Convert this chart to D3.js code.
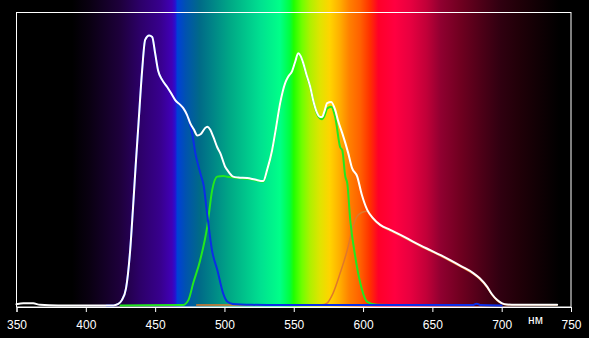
<!DOCTYPE html>
<html>
<head>
<meta charset="utf-8">
<script src="https://d3js.org/d3.v7.min.js"></script>
<style>
	html, body { margin: 0; padding: 0; background: #000; }
	svg { display: block; }
</style>
</head>
<body>
<svg id="canvas" width="589" height="338"></svg>
<script>
// wavelength (nm), relative intensity
var whiteSpectrum = [
	[350,0.006],[355,0.009],[362,0.009],[367,0.004],[380,0.002],[420,0.002],[423,0.006],[426,0.02],
	[429,0.06],[432,0.19],[434,0.33],[436,0.48],[438,0.62],[440.6,0.80],[442.8,0.905],[445.7,0.92],
	[447.9,0.915],[450,0.86],[452.2,0.80],[455,0.77],[458.7,0.745],[462,0.72],[464.5,0.70],[468,0.685],
	[470.3,0.673],[473,0.65],[475.3,0.622],[478,0.60],[480.4,0.58],[483,0.585],[486,0.605],[487.6,0.61],
	[489.7,0.60],[492,0.575],[494.8,0.54],[497,0.52],[500.6,0.473],[502,0.463],[506.3,0.44],[510,0.437],
	[516.4,0.435],[522,0.43],[528,0.425],[530.8,0.463],[534.4,0.53],[537,0.60],[540.2,0.69],[543.8,0.758],
	[546,0.78],[548.9,0.80],[551,0.83],[553.2,0.86],[555,0.85],[556.8,0.827],[559,0.79],[561.9,0.745],
	[564,0.70],[566.9,0.656],[569,0.643],[570.5,0.643],[572,0.66],[574.1,0.69],[577,0.694],[579.9,0.667],
	[582,0.63],[585,0.588],[589.3,0.52],[592,0.47],[595.8,0.44],[599,0.38],[603,0.327],[607,0.30],
	[612.4,0.276],[619.6,0.259],[627,0.242],[634.1,0.224],[641,0.207],[648.5,0.19],[656,0.173],[662.9,0.156],
	[671,0.135],[679.5,0.112],[684,0.095],[689.6,0.065],[693,0.04],[696.8,0.02],[700,0.01],[704,0.005],
	[710,0.004],[740,0.004]
];
var blueSpectrum = [
	[415,0.002],[420,0.002],[423,0.006],[426,0.02],[429,0.06],[432,0.19],[434,0.33],[436,0.48],
	[438,0.62],[440.6,0.80],[442.8,0.905],[445.7,0.92],[447.9,0.915],[450,0.86],[452.2,0.80],[455,0.77],
	[458.7,0.745],[462,0.72],[464.5,0.70],[468,0.685],[470.3,0.673],[473,0.65],[475,0.62],[477,0.58],
	[479,0.52],[481,0.48],[483,0.445],[485,0.41],[487.6,0.31],[491,0.19],[495,0.12],[499,0.044],
	[502,0.015],[506,0.007],[520,0.004],[540,0.003],[679,0.003],[682,0.008],[685,0.003],[700,0.002]
];
var greenSpectrum = [
	[425,0.002],[470,0.003],[474,0.02],[477.5,0.078],[482.5,0.156],[487.6,0.27],[491.2,0.395],[494.8,0.44],
	[499.1,0.442],[502,0.44],[506,0.438],[510,0.435],[516.4,0.433],[522,0.428],[528,0.423],[530.8,0.46],
	[534.4,0.528],[537,0.598],[540.2,0.688],[543.8,0.756],[546,0.778],[548.9,0.798],[551,0.828],[553.2,0.858],
	[555,0.848],[556.8,0.825],[559,0.788],[561.9,0.743],[564,0.698],[566.9,0.652],[569,0.638],[570.5,0.635],
	[572,0.645],[574.1,0.672],[577,0.678],[579.9,0.643],[583.5,0.54],[585,0.53],[587.2,0.44],[588.6,0.418],
	[590.8,0.29],[594.4,0.167],[598,0.078],[603,0.014],[610,0.004],[630,0.003]
];
var redSpectrum = [
	[480,0.003],[570,0.004],[574,0.01],[578.4,0.044],[583.5,0.112],[588.6,0.19],[592.2,0.26],[595,0.30],
	[599,0.318],[603,0.322],[607,0.297],[612.4,0.273],[619.6,0.256],[627,0.239],[634.1,0.221],[641,0.204],
	[648.5,0.187],[656,0.17],[662.9,0.153],[671,0.132],[679.5,0.109],[684,0.092],[689.6,0.062],[693,0.038],
	[696.8,0.018],[700,0.008],[704,0.004],[740,0.003]
];
var tickValues = [350, 400, 450, 500, 550, 600, 650, 700, 750];
var unitLabel = "нм";

// spectrum backdrop: wavelength -> colour
var spectrumStops = [
	[350,"#000000"],[390,"#000000"],[403,"#0a0012"],[425,"#1e003c"],[439,"#2c0068"],[454,"#38008e"],
	[462,"#4000b6"],[464.5,"#2a10d0"],[466,"#0040d8"],[472,"#0052b0"],[482,"#006a88"],[504,"#00a886"],
	[526,"#00e090"],[540,"#00ff88"],[547,"#00ff40"],[550,"#20ff00"],[556,"#70ff00"],[562,"#b0f000"],
	[569,"#e0e400"],[576,"#ffd400"],[583,"#ffb000"],[590,"#ff8000"],[598,"#ff6000"],[605,"#ff3000"],
	[611,"#ff0028"],[623,"#ff0040"],[634,"#e80040"],[646,"#c00038"],[656,"#900030"],[670,"#700020"],
	[684,"#500018"],[699,"#300010"],[713,"#200008"],[727,"#100004"],[742,"#000000"]
];

function draw() {
	var svg = d3.select("#canvas");
	var W = 589;
	var top = 12.5, bottom = 307;

	var x = d3.scaleLinear().domain([350, 750]).range([16.5, 571]);
	var y = d3.scaleLinear().domain([0, 1]).range([306, 12]);

	var grad = svg.append("defs").append("linearGradient")
		.attr("id", "spectrum")
		.attr("gradientUnits", "userSpaceOnUse")
		.attr("x1", 0).attr("x2", W).attr("y1", 0).attr("y2", 0);
	grad.selectAll("stop")
		.data(spectrumStops)
		.enter()
		.append("stop")
		.attr("offset", function(d){ return x(d[0]) / W; })
		.attr("stop-color", function(d){ return d[1]; });

	svg.append("rect")
		.attr("x", 0).attr("y", 0)
		.attr("width", W).attr("height", bottom)
		.attr("fill", "url(#spectrum)");

	// frame
	svg.append("rect")
		.attr("x", x(350)).attr("y", top)
		.attr("width", x(750) - x(350)).attr("height", bottom - top)
		.attr("fill", "none")
		.attr("stroke", "#fff")
		.attr("stroke-width", 1);

	var axis = d3.axisBottom(x).tickValues(tickValues).tickSize(5).tickPadding(8);
	var g = svg.append("g")
		.attr("transform", "translate(0," + bottom + ")")
		.call(axis);
	g.select(".domain").attr("stroke", "#fff");
	g.selectAll(".tick line").attr("stroke", "#fff");
	g.selectAll(".tick text")
		.attr("fill", "#fff")
		.attr("font-family", "Liberation Sans, Arial, sans-serif")
		.attr("font-size", 12);

	svg.append("text")
		.attr("x", 535.5).attr("y", 323.5)
		.attr("text-anchor", "middle")
		.attr("fill", "#fff")
		.attr("font-family", "Liberation Sans, Arial, sans-serif")
		.attr("font-size", 12)
		.text(unitLabel);

	var line = d3.line()
		.x(function(d){ return x(d[0]); })
		.y(function(d){ return y(d[1]); })
		.curve(d3.curveMonotoneX);

	var series = [
		{ data: redSpectrum, color: "#e0782a", width: 1.5 },
		{ data: greenSpectrum, color: "#22e81e", width: 2 },
		{ data: blueSpectrum, color: "#0a2ee6", width: 2 },
		{ data: whiteSpectrum, color: "#ffffff", width: 2 }
	];

	svg.selectAll("path.curve")
		.data(series)
		.enter()
		.append("path")
		.attr("class", "curve")
		.attr("d", function(d){ return line(d.data); })
		.attr("fill", "none")
		.attr("stroke", function(d){ return d.color; })
		.attr("stroke-width", function(d){ return d.width; })
		.attr("stroke-linejoin", "round")
		.attr("stroke-linecap", "round");
}

draw();
</script>
</body>
</html>
